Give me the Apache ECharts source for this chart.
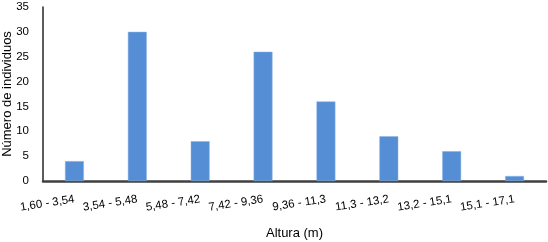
<!DOCTYPE html>
<html><head><meta charset="utf-8">
<script src="https://cdn.jsdelivr.net/npm/echarts@6/dist/echarts.min.js"></script>
<style>html,body{margin:0;padding:0;background:#fff}#c{width:548px;height:242px}</style>
</head><body><div id="c"></div>
<script>
const categories = ['1,60 - 3,54','3,54 - 5,48','5,48 - 7,42','7,42 - 9,36','9,36 - 11,3','11,3 - 13,2','13,2 - 15,1','15,1 - 17,1'];
const values = [4, 30, 8, 26, 16, 9, 6, 1];
const chart = echarts.init(document.getElementById('c'), null, {renderer:'canvas'});
chart.setOption({
  animation:false,
  grid:{left:43,right:2,top:7,bottom:61,containLabel:false,outerBoundsMode:'none'},
  xAxis:{type:'category',data:categories,
    name:'Altura (m)',nameLocation:'middle',nameGap:46,nameMoveOverlap:false,
    nameTextStyle:{fontFamily:'Liberation Sans',fontSize:13,color:'#000'},
    axisLine:{lineStyle:{color:'#404040',width:2.5}},
    axisTick:{show:false},
    axisLabel:{rotate:9,interval:0,fontFamily:'Liberation Sans',fontSize:11.5,color:'#000',margin:18}},
  yAxis:{type:'value',min:0,max:35,interval:5,
    name:'Número de individuos',nameLocation:'middle',nameGap:29,nameMoveOverlap:false,
    nameTextStyle:{fontFamily:'Liberation Sans',fontSize:13,color:'#000'},
    axisLine:{show:true,lineStyle:{color:'#262626',width:1.5}},
    axisTick:{show:false},splitLine:{show:false},
    axisLabel:{fontFamily:'Liberation Sans',fontSize:11.5,color:'#000',margin:14}},
  series:[{type:'bar',data:values,barWidth:'30%',
    itemStyle:{color:'#558ED5',borderColor:'#8DB3E2',borderWidth:0.5}}]
});
</script></body></html>
